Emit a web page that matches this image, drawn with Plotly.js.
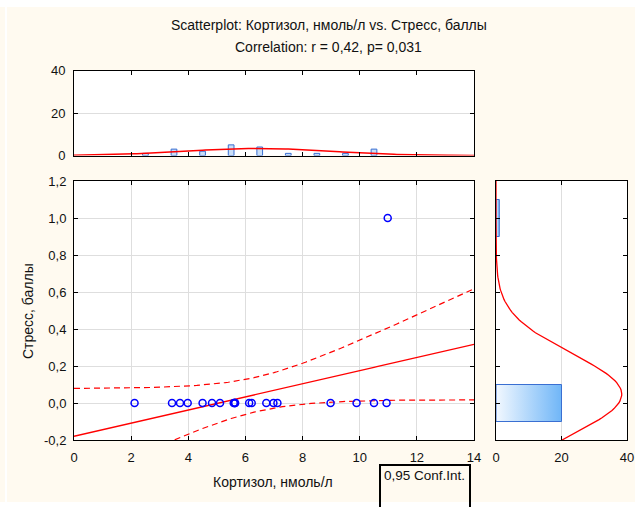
<!DOCTYPE html>
<html>
<head>
<meta charset="utf-8">
<script src="https://cdn.plot.ly/plotly-3.0.1.min.js"></script>
<style>html,body{margin:0;padding:0;background:#fffaf0;}#chart{width:635px;height:507px;}</style>
</head>
<body>
<div id="chart"></div>
<script>
// Data
const cortisol = [2.12, 3.43, 3.71, 3.98, 4.50, 4.83, 5.11, 5.59, 5.62, 5.63, 5.64,
                  6.13, 6.22, 6.73, 6.98, 7.12, 8.98, 9.89, 10.50, 10.94, 10.98];
const stress   = [0, 0, 0, 0, 0, 0, 0, 0, 0, 0, 0,
                  0, 0, 0, 0, 0, 0, 0, 0, 0, 1];
const xTickVals = [0, 2, 4, 6, 8, 10, 12, 14];
const yTickVals = [-0.2, 0, 0.2, 0.4, 0.6, 0.8, 1.0, 1.2];
const yTickText = ['-0,2', '0,0', '0,2', '0,4', '0,6', '0,8', '1,0', '1,2'];
const histTickVals = [0, 20, 40];
const titleLine1 = 'Scatterplot: Кортизол, нмоль/л vs. Стресс, баллы';
const titleLine2 = 'Correlation: r = 0,42, p= 0,031';
const xTitle = 'Кортизол, нмоль/л';
const yTitle = 'Стресс, баллы';
const legendText = '0,95 Conf.Int.';

// statistics derived from the data
const n = cortisol.length;
const mean = a => a.reduce((s, v) => s + v, 0) / a.length;
const mx = mean(cortisol), my = mean(stress);
let sxx = 0, sxy = 0, syy = 0;
for (let i = 0; i < n; i++) {
  sxx += (cortisol[i] - mx) ** 2;
  sxy += (cortisol[i] - mx) * (stress[i] - my);
  syy += (stress[i] - my) ** 2;
}
const slope = sxy / sxx, icpt = my - slope * mx;
const s = Math.sqrt((syy - slope * sxy) / (n - 2));
const tcrit = 2.093; // t(0.975, 19)
const sdx = Math.sqrt(sxx / (n - 1)), sdy = Math.sqrt(syy / (n - 1));

const gx = [], fit = [], up = [], lo = [];
for (let k = 0; k <= 140; k++) {
  const x = k / 10;
  const yh = icpt + slope * x;
  const hw = tcrit * s * Math.sqrt(1 / n + (x - mx) ** 2 / sxx);
  gx.push(x); fit.push(yh); up.push(yh + hw); lo.push(yh - hw);
}
// histograms (bin width 1 for x, by value for y)
const binC = [], binN = [];
for (let b = 0; b < 14; b++) {
  const c = cortisol.filter(v => v >= b && v < b + 1).length;
  if (c > 0) { binC.push(b + 0.5); binN.push(c); }
}
const pdf = (v, m, sd) => Math.exp(-0.5 * ((v - m) / sd) ** 2) / (sd * Math.sqrt(2 * Math.PI));
const nx = gx.map(x => n * pdf(x, mx, sdx));
const gy = [], ny = [];
for (let k = -20; k <= 120; k++) { const y = k / 100; gy.push(y); ny.push(n * pdf(y, my, sdy)); }

const yVals = [...new Set(stress)];
const yCounts = yVals.map(v => stress.filter(s2 => s2 === v).length);

const traces = [];
traces.push({x: gx, y: up, xaxis: 'x', yaxis: 'y', mode: 'lines', line: {color: '#ff0000', width: 1.2, dash: '6px,4px'}, hoverinfo: 'skip'});
traces.push({x: gx, y: lo, xaxis: 'x', yaxis: 'y', mode: 'lines', line: {color: '#ff0000', width: 1.2, dash: '6px,4px'}, hoverinfo: 'skip'});
traces.push({x: gx, y: fit, xaxis: 'x', yaxis: 'y', mode: 'lines', line: {color: '#ff0000', width: 1.3}});
traces.push({x: cortisol, y: stress, xaxis: 'x', yaxis: 'y', mode: 'markers', cliponaxis: false,
  marker: {symbol: 'circle-open', size: 7, color: '#0000ff', line: {width: 1.5, color: '#0000ff'}}});

traces.push({x: binC, y: binN, xaxis: 'x2', yaxis: 'y2', type: 'bar', width: 0.2,
  marker: {color: '#c9def7', line: {color: '#3a6fd2', width: 1}}});
traces.push({x: gx, y: nx, xaxis: 'x2', yaxis: 'y2', mode: 'lines', line: {color: '#ff0000', width: 1.5}});

yVals.forEach((v, i) => {
  const c = yCounts[i];
  traces.push({x: [0, c, c, 0, 0], y: [v - 0.1, v - 0.1, v + 0.1, v + 0.1, v - 0.1], xaxis: 'x3', yaxis: 'y3',
    mode: 'lines', fill: 'toself', line: {color: '#3a6fd2', width: 1},
    fillgradient: {type: 'horizontal', colorscale: [[0, '#f2f8ff'], [1, '#70b6f7']]}});
});
traces.push({x: ny, y: gy, xaxis: 'x3', yaxis: 'y3', mode: 'lines', line: {color: '#ff0000', width: 1.3}});

const tickFont = {family: 'Liberation Sans, Arial, sans-serif', size: 13, color: '#111'};
const axBase = {showline: true, linecolor: '#000', linewidth: 1, mirror: 'allticks', ticks: 'inside',
  ticklen: 4, tickcolor: '#000', zeroline: false, tickfont: tickFont, fixedrange: true};

const layout = {
  width: 635, height: 507, margin: {l: 0, r: 0, t: 0, b: 0},
  paper_bgcolor: '#fffaf0', plot_bgcolor: '#ffffff', showlegend: false,
  font: {family: 'Liberation Sans, Arial, sans-serif', size: 14, color: '#111'},
  xaxis: Object.assign({}, axBase, {domain: [74/635, 474/635], range: [0, 14], anchor: 'y',
    tickvals: xTickVals, showgrid: true, gridcolor: '#dedede', ticklabelstandoff: 5}),
  yaxis: Object.assign({}, axBase, {domain: [67/507, 326/507], range: [-0.2, 1.2], anchor: 'x',
    tickvals: yTickVals, ticktext: yTickText, showgrid: true, gridcolor: '#dedede', ticklabelstandoff: 4}),
  xaxis2: Object.assign({}, axBase, {domain: [74/635, 474/635], range: [0, 14], anchor: 'y2',
    tickvals: xTickVals, showticklabels: false, showgrid: false}),
  yaxis2: Object.assign({}, axBase, {domain: [351.5/507, 436.5/507], range: [0, 40], anchor: 'x2',
    tickvals: histTickVals, showgrid: true, gridcolor: '#dedede', ticklabelstandoff: 5}),
  xaxis3: Object.assign({}, axBase, {domain: [496/635, 627/635], range: [0, 40], anchor: 'y3',
    tickvals: histTickVals, showgrid: true, gridcolor: '#dedede', ticklabelstandoff: 5}),
  yaxis3: Object.assign({}, axBase, {domain: [67/507, 326/507], range: [-0.2, 1.2], anchor: 'x3',
    tickvals: yTickVals, showticklabels: false, showgrid: false}),
  shapes: [
    {type: 'rect', xref: 'paper', yref: 'paper', x0: 0, x1: 1, y0: 500/507, y1: 1.01, fillcolor: '#ffffff', line: {width: 0}, layer: 'below'},
    {type: 'rect', xref: 'paper', yref: 'paper', x0: 5/635, x1: 7/635, y0: 0, y1: 1, fillcolor: '#ffffff', line: {width: 0}, layer: 'below'},
    {type: 'rect', xref: 'paper', yref: 'paper', x0: 0, x1: 1, y0: -0.01, y1: 5/507, fillcolor: '#ffffff', line: {width: 0}, layer: 'below'},
    {type: 'rect', xref: 'paper', yref: 'paper', x0: 380/635, x1: 470/635, y0: -0.05, y1: 42/507, line: {color: '#000', width: 2}}
  ],
  annotations: [
    {text: titleLine1, xref: 'paper', yref: 'paper', x: 329/635, y: 1 - 25/507, showarrow: false, xanchor: 'center', yanchor: 'middle', font: {size: 14}},
    {text: titleLine2, xref: 'paper', yref: 'paper', x: 328/635, y: 1 - 47/507, showarrow: false, xanchor: 'center', yanchor: 'middle', font: {size: 14}},
    {text: xTitle, xref: 'paper', yref: 'paper', x: 273/635, y: 1 - 482/507, showarrow: false, xanchor: 'center', yanchor: 'middle', font: {size: 14}},
    {text: yTitle, xref: 'paper', yref: 'paper', x: 28/635, y: 1 - 311/507, showarrow: false, xanchor: 'center', yanchor: 'middle', textangle: -90, font: {size: 14}},
    {text: legendText, xref: 'paper', yref: 'paper', x: 382/635, y: 1 - 475/507, showarrow: false, xanchor: 'left', yanchor: 'middle', font: {size: 13.5}}
  ]
};
Plotly.newPlot('chart', traces, layout, {displayModeBar: false, staticPlot: true});
</script>
</body>
</html>
